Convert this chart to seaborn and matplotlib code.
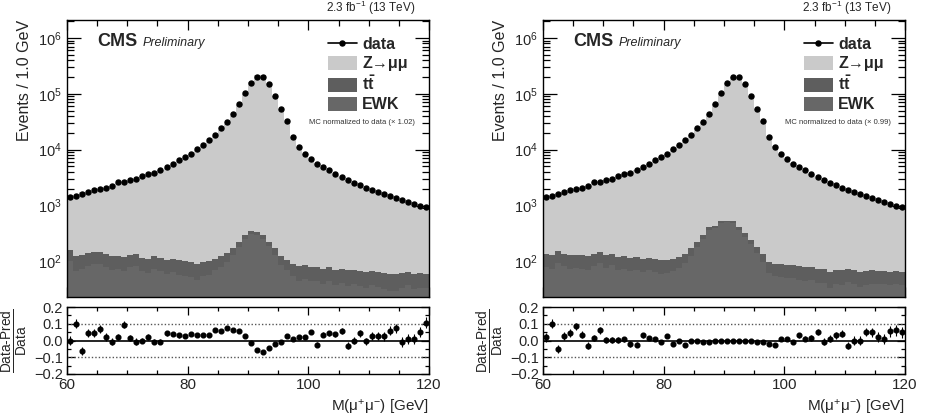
import numpy as np
import pandas as pd
import seaborn as sns
import matplotlib
matplotlib.use("Agg")
import matplotlib.pyplot as plt
from matplotlib.lines import Line2D
from matplotlib.patches import Patch
from matplotlib.ticker import MultipleLocator, LogLocator, NullFormatter, FixedLocator

# 1 GeV bins from 60 to 120 GeV
bin_edges = np.arange(60, 121, 1)
mass = bin_edges[:-1] + 0.5

# observed events per bin (same data in both panels)
data_events = [1420, 1510, 1620, 1740, 1860, 1990, 2090, 2190, 2630, 2630,
               2820, 3020, 3310, 3630, 3890, 4270, 4900, 5620, 6460, 7410,
               8510, 10200, 12000, 14800, 18600, 24000, 31600, 43700, 66100, 102000,
               158000, 204000, 204000, 151000, 91200, 53700, 32400, 17000, 11200, 8510,
               6920, 5620, 4900, 4270, 3720, 3240, 2820, 2510, 2290, 2090,
               1900, 1740, 1620, 1510, 1380, 1260, 1150, 1050, 980, 930]

# ttbar component (both panels)
ttbar = [60, 58, 58, 57, 57, 56, 55, 54, 54, 53, 53, 52, 51, 50, 50, 49, 48, 47, 47, 46,
         45, 45, 44, 44, 43, 43, 42, 42, 41, 41, 40, 40, 39, 39, 38, 38, 37, 37, 36, 36,
         35, 35, 34, 34, 33, 33, 33, 32, 32, 31, 31, 30, 30, 30, 29, 29, 28, 28, 28, 27]

# ttbar + EWK total, left panel
bkg_left = [162, 126, 132, 141, 145, 145, 135, 123, 126, 120, 132, 135, 117, 112, 123, 117, 107, 112, 105, 100,
            98, 91, 98, 100, 112, 123, 141, 170, 224, 295, 347, 331, 295, 224, 170, 123, 107, 91, 81, 85,
            79, 79, 74, 79, 71, 74, 69, 71, 68, 65, 68, 65, 62, 60, 59, 62, 65, 60, 62, 60]

# ttbar + EWK total, right panel
bkg_right = [138, 132, 151, 138, 129, 132, 129, 123, 138, 145, 129, 138, 120, 123, 117, 120, 112, 117, 112, 105,
             107, 112, 120, 138, 170, 224, 295, 407, 437, 525, 537, 525, 407, 316, 240, 182, 135, 98, 91, 89,
             85, 85, 81, 79, 79, 74, 74, 65, 71, 69, 74, 69, 65, 68, 69, 68, 68, 65, 68, 65]

# (Data - Pred) / Data
ratio_left = [0.0, 0.10, -0.064, 0.044, 0.044, 0.07, 0.02, -0.006, 0.02, 0.094,
              0.014, -0.006, 0.0, 0.02, -0.006, -0.006, 0.044, 0.04, 0.03, 0.026,
              0.036, 0.034, 0.034, 0.034, 0.06, 0.056, 0.074, 0.064, 0.056, 0.026,
              -0.016, -0.054, -0.066, -0.046, -0.02, -0.006, 0.024, 0.01, 0.02, 0.02,
              0.05, -0.024, 0.034, 0.044, 0.036, 0.056, -0.03, 0.0, 0.044, -0.004,
              0.026, 0.024, 0.024, 0.058, 0.074, -0.01, 0.01, 0.01, 0.05, 0.106]

ratio_right = [0.02, 0.10, -0.05, 0.024, 0.044, 0.084, 0.034, -0.03, 0.016, 0.06,
               0.004, 0.004, 0.004, 0.006, -0.02, -0.026, 0.03, 0.016, 0.01, -0.01,
               0.026, -0.02, -0.004, -0.026, -0.004, -0.004, -0.006, -0.006, -0.004, -0.004,
               0.0, 0.0, 0.0, 0.0, -0.004, -0.006, -0.01, -0.02, -0.026, 0.006,
               0.01, -0.01, 0.03, 0.01, 0.014, 0.05, -0.006, 0.01, 0.03, 0.04,
               -0.03, 0.0, 0.0, 0.05, 0.05, 0.02, 0.01, 0.054, 0.06, 0.05]

norm_labels = ["MC normalized to data (\u00d7 1.02)", "MC normalized to data (\u00d7 0.99)"]

process_order = ["Z", "tt", "EWK"]
colors = {"Z": "#cacaca", "tt": "#5e5e5e", "EWK": "#676767"}

sns.set_theme(style="ticks")
plt.rcParams["font.family"] = ["Liberation Sans", "DejaVu Sans"]
plt.rcParams["mathtext.fontset"] = "custom"
plt.rcParams["mathtext.rm"] = "Liberation Sans"
plt.rcParams["mathtext.it"] = "Liberation Sans:italic"
plt.rcParams["mathtext.bf"] = "Liberation Sans:bold"


def draw_panel(fig, x0, bkg_total, ratio, norm_label):
    ax = fig.add_axes([x0, 0.2912, 0.3914, 0.6611])
    axr = fig.add_axes([x0, 0.1074, 0.3914, 0.1599])

    data = np.array(data_events, dtype=float)
    r = np.array(ratio)
    tt = np.array(ttbar, dtype=float)
    ewk = np.array(bkg_total, dtype=float) - tt
    pred = data * (1 - r)
    z = pred - tt - ewk

    df = pd.DataFrame({
        "mass": np.tile(mass, 3),
        "events": np.concatenate([z, tt, ewk]),
        "process": np.repeat(process_order, len(mass)),
    })
    sns.histplot(data=df, x="mass", weights="events", hue="process",
                 hue_order=process_order, multiple="stack", binwidth=1,
                 binrange=(60, 120), element="step", fill=True, palette=colors,
                 alpha=1, linewidth=0, legend=False, ax=ax)

    ax.errorbar(mass, data, yerr=np.sqrt(data), fmt="o", ms=3.6, color="black",
                elinewidth=0.8, capsize=0, zorder=5)

    ax.set_yscale("log")
    ax.set_xlim(60, 120)
    ax.set_ylim(23, 2.1e6)
    ax.set_xlabel("")
    ax.set_ylabel("Events / 1.0 GeV", fontsize=11.5, loc="top", labelpad=4)
    ax.yaxis.set_major_locator(LogLocator(base=10, numticks=10))
    ax.yaxis.set_minor_locator(LogLocator(base=10, subs=np.arange(2, 10), numticks=20))
    ax.yaxis.set_minor_formatter(NullFormatter())
    ax.xaxis.set_major_locator(MultipleLocator(20))
    ax.xaxis.set_minor_locator(MultipleLocator(5))
    ax.tick_params(axis="x", labelbottom=False)
    ax.tick_params(which="both", direction="in", top=True, right=True, width=0.9, color="black")
    ax.tick_params(axis="y", which="major", length=10, labelsize=10.5, pad=4)
    ax.tick_params(axis="y", which="minor", length=5)
    ax.tick_params(axis="x", which="major", length=7)
    ax.tick_params(axis="x", which="minor", length=4)
    for s in ax.spines.values():
        s.set_linewidth(1.0)
        s.set_color("black")

    ax.text(0.083, 0.905, "CMS", transform=ax.transAxes, fontsize=13,
            fontweight="bold", ha="left", va="baseline")
    ax.text(0.21, 0.905, "Preliminary", transform=ax.transAxes, fontsize=9,
            style="italic", ha="left", va="baseline")
    ax.text(0.962, 1.012, "2.3 fb$^{-1}$ (13 TeV)", transform=ax.transAxes,
            fontsize=8.5, ha="right", va="bottom")
    ax.text(0.96, 0.63, norm_label, transform=ax.transAxes, fontsize=5.5,
            color="#333333", ha="right", va="center")

    handles = [
        Line2D([], [], color="black", marker="o", ms=3.6, lw=1.2),
        Patch(facecolor=colors["Z"], edgecolor="none"),
        Patch(facecolor=colors["tt"], edgecolor="none"),
        Patch(facecolor=colors["EWK"], edgecolor="none"),
    ]
    labels = ["data", "Z\u2192\u03bc\u03bc", r"$\mathbf{t\bar{t}}$", "EWK"]
    ax.legend(handles, labels, loc="upper left", bbox_to_anchor=(0.712, 0.95),
              frameon=False, prop={"weight": "bold", "size": 11.5},
              handlelength=1.8, handleheight=0.95, handletextpad=0.35,
              labelspacing=0.22, borderpad=0.2, borderaxespad=0)

    # ratio panel
    axr.errorbar(mass, r, yerr=1 / np.sqrt(data), fmt="o", ms=3.4, color="black",
                 elinewidth=0.8, capsize=0, zorder=5)
    axr.axhline(0, color="black", lw=1.2, zorder=2)
    for lvl in (0.1, -0.1):
        axr.axhline(lvl, color="#555555", lw=1.0, ls=(0, (1, 1.5)), zorder=1)
    axr.set_xlim(60, 120)
    axr.set_ylim(-0.2, 0.2)
    axr.yaxis.set_major_locator(FixedLocator([-0.2, -0.1, 0.0, 0.1, 0.2]))
    axr.set_yticklabels(["\u22120.2", "\u22120.1", "0.0", "0.1", "0.2"])
    axr.yaxis.set_minor_locator(MultipleLocator(0.05))
    axr.xaxis.set_major_locator(MultipleLocator(20))
    axr.xaxis.set_minor_locator(MultipleLocator(5))
    axr.tick_params(which="both", direction="in", top=True, right=True, width=0.9, color="black")
    axr.tick_params(axis="y", which="major", length=6, labelsize=10.5, pad=3)
    axr.tick_params(axis="y", which="minor", length=3)
    axr.tick_params(axis="x", which="major", length=6, labelsize=11, pad=3)
    axr.tick_params(axis="x", which="minor", length=3)
    for s in axr.spines.values():
        s.set_linewidth(1.0)
        s.set_color("black")
    axr.set_ylabel(r"$\frac{\text{Data-Pred}}{\text{Data}}$", fontsize=14, labelpad=2)
    axr.set_xlabel("M(\u03bc$^{+}$\u03bc$^{-}$) [GeV]", fontsize=11, loc="right", labelpad=4)
    return ax, axr


fig = plt.figure(figsize=(9.25, 4.19), dpi=100)
fig.patch.set_facecolor("white")

draw_panel(fig, 0.0724, bkg_left, ratio_left, norm_labels[0])
draw_panel(fig, 0.5870, bkg_right, ratio_right, norm_labels[1])

fig.savefig("out.png", dpi=100, facecolor="white")
